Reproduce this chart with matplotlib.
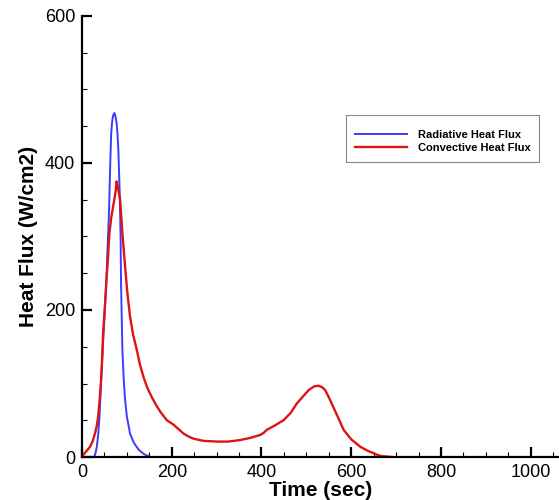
import matplotlib
matplotlib.use("Agg")
import matplotlib.pyplot as plt
from matplotlib.ticker import MultipleLocator
from matplotlib.patches import Rectangle

plt.rcParams['font.family'] = ['Liberation Sans', 'DejaVu Sans']

rad_t = [27, 30, 33, 36, 39, 42, 46, 50, 54, 57, 60, 63, 65, 67, 69, 72, 74, 77, 79, 81, 84, 86,
         87, 90, 93, 96, 100, 107, 115, 126, 138, 152]
rad_q = [0, 5, 14, 30, 55, 95, 146, 190, 236, 285, 330, 400, 440, 455, 464, 468, 465, 455, 440, 418, 359, 300,
         236, 146, 105, 78, 55, 32, 20, 10, 4, 0]

conv_t = [0, 3, 10, 18, 24, 29, 33, 36, 39, 42, 45, 47, 51, 54, 58, 61, 65, 69, 72, 75, 77, 79, 82, 85,
          90, 96, 101, 107, 114, 122, 129, 137, 145, 155, 164, 174, 189, 204, 215, 226, 237, 248,
          270, 300, 326, 352, 375, 397, 405, 412, 430, 449, 465, 479, 492, 505, 517, 527, 535, 542,
          551, 560, 572, 583, 600, 620, 635, 650, 662, 672, 690]
conv_q = [0, 3, 8, 14, 22, 32, 43, 55, 75, 100, 135, 168, 205, 236, 272, 304, 325, 340, 350, 362, 375, 370, 360, 350,
          305, 259, 224, 191, 166, 146, 126, 109, 95, 82, 72, 62, 50, 44, 38, 32, 28, 25,
          22, 21, 21, 23, 26, 30, 33, 37, 43, 50, 60, 73, 82, 91, 96, 97, 95, 91,
          80, 68, 52, 37, 24, 14, 9, 5, 2, 1, 0]

x_ticks = [0, 200, 400, 600, 800, 1000]
y_ticks = [0, 200, 400, 600]

fig = plt.figure(figsize=(5.59, 5.0), dpi=100)
ax = fig.add_axes([0.1467, 0.086, 0.8533, 0.882])

ax.plot(rad_t, rad_q, color='#3c3cff', lw=1.4, label='Radiative Heat Flux',
        solid_joinstyle='round')
ax.plot(conv_t, conv_q, color='#dd1414', lw=1.7, label='Convective Heat Flux',
        solid_joinstyle='round')

ax.set_xlim(0, 1063)
ax.set_ylim(0, 600)
ax.set_xticks(x_ticks)
ax.set_yticks(y_ticks)
ax.xaxis.set_minor_locator(MultipleLocator(50))
ax.yaxis.set_minor_locator(MultipleLocator(50))
ax.spines['top'].set_visible(False)
ax.spines['right'].set_visible(False)
for s in ['left', 'bottom']:
    ax.spines[s].set_linewidth(1.6)
ax.tick_params(which='major', direction='in', length=7, width=1.6, labelsize=13, pad=5)
ax.tick_params(which='minor', direction='in', length=3.5, width=0.8)
ax.set_xlabel('Time (sec)', fontsize=15, fontweight='bold', labelpad=0)
ax.set_ylabel('Heat Flux (W/cm2)', fontsize=15, fontweight='bold', labelpad=5)

# legend box drawn separately so that the padding matches
fig.patches.append(Rectangle((0.6184, 0.6766), 0.3463, 0.0934, transform=fig.transFigure,
                             facecolor='white', edgecolor='#888888', linewidth=0.8, zorder=5))
leg = fig.legend(loc='upper left', bbox_to_anchor=(0.635, 0.740),
                 prop={'weight': 'bold', 'size': 8}, frameon=False,
                 handlelength=4.68, handletextpad=0.95, borderpad=0, labelspacing=0.29,
                 borderaxespad=0)
leg.set_zorder(6)

fig.savefig('out.png', dpi=100)
